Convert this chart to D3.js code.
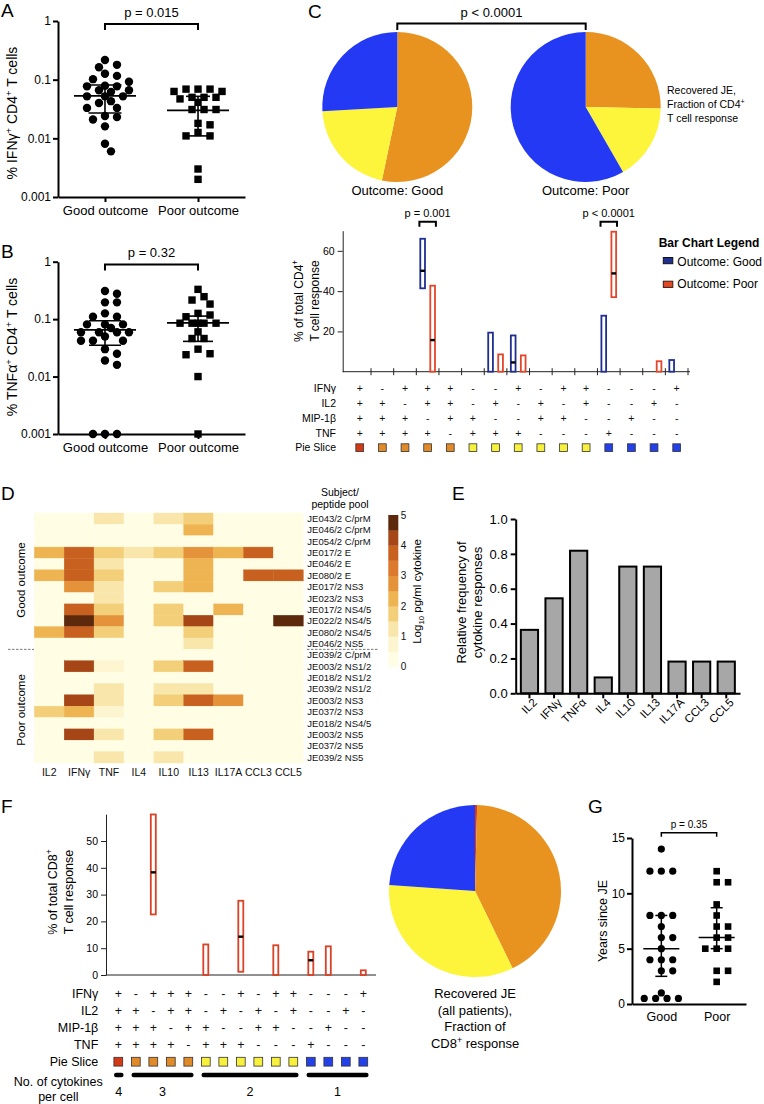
<!DOCTYPE html>
<html><head><meta charset="utf-8">
<script src="https://cdn.jsdelivr.net/npm/d3@7/dist/d3.min.js"></script>
<style>
html,body{margin:0;padding:0;background:#fff;}
svg{display:block;}
</style></head>
<body><svg id="chart" width="764" height="1104"></svg>
<script>
// ================= DATA =================
// Panels A & B
const outcomeGroups = ["Good outcome", "Poor outcome"];
const logTickValues = [1, 0.1, 0.01, 0.001];
const logTickLabels = ["1", "0.1", "0.01", "0.001"];
const ifngGood = [0.217,0.179,0.163,0.126,0.116,0.102,0.092,0.077,0.077,0.079,0.062,0.066,0.066,0.052,0.052,0.052,0.043,0.040,0.033,0.033,0.024,0.021,0.023,0.016,0.0081,0.006];
const ifngPoor = [0.063,0.069,0.069,0.063,0.069,0.047,0.041,0.05,0.05,0.05,0.031,0.031,0.031,0.017,0.018,0.011,0.011,0.0126,0.003,0.002];
const ifngMedian = [0.053, 0.030];
const ifngQ1 = [0.027, 0.011];
const ifngQ3 = [0.081, 0.052];
const ifngP = "p = 0.015";
const tnfGood = [0.309,0.277,0.196,0.196,0.126,0.11,0.11,0.081,0.081,0.081,0.07,0.059,0.059,0.059,0.059,0.05,0.042,0.042,0.042,0.030,0.025,0.019,0.016,0.001,0.001,0.001];
const tnfPoor = [0.33,0.246,0.215,0.183,0.126,0.118,0.11,0.085,0.085,0.085,0.085,0.085,0.06,0.046,0.046,0.030,0.025,0.024,0.01,0.001];
const tnfMedian = [0.065, 0.086];
const tnfQ1 = [0.035, 0.041];
const tnfQ3 = [0.094, 0.113];
const tnfP = "p = 0.32";

// Panel C pies (percent of response per pie slice group)
const sliceColors = ["#D9381B", "#E8921F", "#FCF53B", "#2339F4"];
const sliceSquareColors = ["#D23A16", "#E08A2A", "#F7F03C", "#2440E8"];
const pieGood = [0, 53.3, 20.8, 25.9];
const piePoor = [0, 25.3, 16.4, 58.3];
const pieAll = [0.4, 42.4, 33.3, 23.9];

// Cytokine combination rows (shared by C and F)
const comboRowLabels = ["IFNγ", "IL2", "MIP-1β", "TNF", "Pie Slice"];
const comboIFNg = ["+","-","+","+","+","-","-","+","-","+","+","-","-","-","+"];
const comboIL2  = ["+","+","-","+","+","-","+","-","+","-","+","-","-","+","-"];
const comboMIP  = ["+","+","+","-","+","+","-","-","+","+","-","-","+","-","-"];
const comboTNF  = ["+","+","+","+","-","+","+","+","-","-","-","+","-","-","-"];
const comboSlice = [0,1,1,1,1,2,2,2,2,2,2,3,3,3,3];

// Panel C bars (% of total CD4+ response)
const cd4GoodHigh = [0,0,0,66,0,0,19.4,18,0,0,0,27.8,0,0,5.8];
const cd4GoodLow  = [0,0,0,41.4,0,0,0,0,0,0,0,0,0,0,0];
const cd4GoodMed  = [null,null,null,50.1,null,null,null,4.6,null,null,null,null,null,null,null];
const cd4PoorHigh = [0,0,0,42.7,0,0,8.6,8.1,0,0,0,69.5,0,5.2,0];
const cd4PoorLow  = [0,0,0,0,0,0,0,0,0,0,0,37,0,0,0];
const cd4PoorMed  = [null,null,null,15.7,null,null,null,null,null,null,null,48.8,null,null,null];
const cd4YTicks = [20, 40, 60];
const cd4PValues = [{col:3, label:"p = 0.001"}, {col:11, label:"p < 0.0001"}];

// Panel D heatmap
const heatCytokines = ["IL2","IFNγ","TNF","IL4","IL10","IL13","IL17A","CCL3","CCL5"];
const heatSubjects = ["JE043/2 C/prM","JE046/2 C/prM","JE054/2 C/prM","JE017/2 E","JE046/2 E","JE080/2 E","JE017/2 NS3","JE023/2 NS3","JE017/2 NS4/5","JE022/2 NS4/5","JE080/2 NS4/5","JE046/2 NS5","JE039/2 C/prM","JE003/2 NS1/2","JE018/2 NS1/2","JE039/2 NS1/2","JE003/2 NS3","JE037/2 NS3","JE018/2 NS4/5","JE003/2 NS5","JE037/2 NS5","JE039/2 NS5"];
const heatValues = [
  [0,0,1.2,0,1.2,1.7,0,0,0],
  [0,0,0,0,0,2.2,0,0,0],
  [0,0,0,0,0,0,0,0,0],
  [2.2,3.7,1.7,1.2,1.7,2.9,2.2,3.7,0],
  [0,3.7,1.2,0,0,2.2,0,0,0],
  [2.2,3.7,1.7,0,0,2.2,0,3.7,3.7],
  [0,2.9,1.2,0,1.7,2.2,0,0,0],
  [0,0,1.2,0,0,0,0,0,0],
  [0,3.7,1.7,0,1.7,0,2.2,0,0],
  [0,4.8,2.9,0,1.7,4.2,0,0,4.8],
  [2.2,3.7,1.7,0,0,1.7,0,0,0],
  [0,0,0,0,0,1.2,0,0,0],
  [0,0,0,0,0,0,0,0,0],
  [0,4.2,0.7,0,1.7,3.7,0,0,0],
  [0,0,0,0,0,0,0,0,0],
  [0,0,1.2,0,1.2,1.2,0,0,0],
  [0,4.2,1.2,0,1.7,3.7,2.7,0,0],
  [1.7,2.2,0.7,0,0,0,0,0,0],
  [0,0,0,0,0,0,0,0,0],
  [0,4.2,1.2,0,1.7,3.7,0,0,0],
  [0,0,0,0,0,0,0,0,0],
  [0,0,1.2,0,1.2,0,0,0,0]
];
const goodSubjectCount = 12;
const heatColors = ["#FFFDE4","#FDF5CF","#F8E6AB","#F3CF7A","#EFB452","#E4933A","#DB7A2C","#C8611F","#A64516","#5C290D"];
const colorbarTicks = [0,1,2,3,4,5];

// Panel E
const freqCytokines = ["IL2","IFNγ","TNFα","IL4","IL10","IL13","IL17A","CCL3","CCL5"];
const freqValues = [0.364,0.545,0.818,0.091,0.727,0.727,0.182,0.182,0.182];
const freqTicks = [0,0.2,0.4,0.6,0.8,1.0];

// Panel F
const cd8High = [0,0,59.9,0,0,11.4,0,27.7,0,11.1,0,8.7,10.7,0,1.75];
const cd8Low  = [0,0,22.6,0,0,0,0,1.2,0,0,0,0,0,0,0];
const cd8Med  = [null,null,38.3,null,null,null,null,14.3,null,null,null,5.5,null,null,null];
const cd8YTicks = [0,10,20,30,40,50];
const cytokineCountGroups = [{label:"4",from:0,to:0},{label:"3",from:1,to:4},{label:"2",from:5,to:10},{label:"1",from:11,to:14}];

// Panel G
const gGroups = ["Good","Poor"];
const yearsGood = [14,12,12,12,8,8,8,7,6,6,5,4,4,4,3,3,1,0.5,0.5,0.5,0.5];
const yearsPoor = [12,11,11,9,8,7,7,6,6,5,5,5,3,3,2];
const yearsMedian = [5, 6];
const yearsQ1 = [2.5, 5];
const yearsQ3 = [8, 8.7];
const yearsTicks = [0,5,10,15];
const yearsP = "p = 0.35";

// ================= DRAWING =================
const FONT = '"Liberation Sans", Arial, Helvetica, sans-serif';
const svg = d3.select("#chart").attr("font-family", FONT);
svg.append("rect").attr("width",764).attr("height",1104).attr("fill","#fff");

function txt(x,y,s,size,anchor="start",extra={}) {
  const t = svg.append("text").attr("x",x).attr("y",y).attr("font-size",size)
    .attr("text-anchor",anchor).attr("fill",extra.fill||"#000").text(s);
  if (extra.weight) t.attr("font-weight",extra.weight);
  return t;
}
function rich(x,y,parts,size,anchor="middle",rotate=0){
  const t = svg.append("text").attr("font-size",size).attr("text-anchor",anchor).attr("fill","#000")
    .attr("transform",`translate(${x},${y})`+(rotate?` rotate(${rotate})`:""));
  let cur=0;
  parts.forEach(p=>{
    const target = p.sup ? -size*0.38 : (p.sub ? size*0.28 : 0);
    const ts = t.append("tspan").attr("dy", target-cur).text(p.t);
    if (p.sup||p.sub) ts.attr("font-size", size*0.68);
    cur=target;
  });
  return t;
}
function rotText(x,y,s,size){
  return svg.append("text").attr("font-size",size).attr("text-anchor","middle").attr("fill","#000")
    .attr("transform",`translate(${x},${y}) rotate(-90)`).text(s);
}
function styleAxis(g,size,sw,color="#000"){
  g.attr("font-family",FONT).attr("font-size",size);
  g.selectAll("path,line").attr("stroke",color).attr("stroke-width",sw);
  g.selectAll("text").attr("fill","#000");
}
function swarm(vals,yScale,cx,step,minDist,maxOff){
  const pts = vals.map(v=>({v, y:yScale(v)})).sort((a,b)=>a.y-b.y);
  const placed=[];
  for (const p of pts){
    p.x = cx;
    let best=null, bestScore=Infinity;
    for (let k=0;k<60;k++){
      const off = (k%2===1?1:-1)*Math.ceil(k/2)*step;
      if (Math.abs(off)>maxOff) break;
      const x = cx+off;
      const dmin = placed.length? d3.min(placed,q=>Math.hypot(q.x-x,q.y-p.y)) : Infinity;
      if (dmin>=minDist) { best=x; break; }
      const score = -dmin;
      if (score<bestScore){bestScore=score; p.alt=x;}
    }
    p.x = best!=null ? best : p.alt;
    placed.push(p);
  }
  return placed;
}

// Panel letters
[["A",1,17],["B",1,258],["C",308,18],["D",1,500],["E",452,500],["F",1,813],["G",588,813]]
  .forEach(([l,x,y])=>txt(x,y,l,19));

// ---------- Panels A & B ----------
function dotPanel(o){
  const y = d3.scaleLog().domain([0.001,1]).range([o.yBottom,o.yTop]);
  const x = d3.scalePoint().domain(outcomeGroups).range([58,245]).padding(0.505);
  const ga = svg.append("g").attr("transform","translate(58,0)")
    .call(d3.axisLeft(y).tickValues(logTickValues).tickFormat((d,i)=>logTickLabels[i]).tickSize(5).tickSizeOuter(0).tickPadding(2));
  styleAxis(ga,12,2);
  const gx = svg.append("g").attr("transform",`translate(0,${o.yBottom})`)
    .call(d3.axisBottom(x).tickSize(5).tickSizeOuter(0).tickPadding(4));
  styleAxis(gx,13,2);
  const gp = swarm(o.good,y,x(outcomeGroups[0]),6,8.6,26);
  svg.append("g").selectAll("circle").data(gp).join("circle")
    .attr("cx",d=>d.x).attr("cy",d=>d.y).attr("r",4.2).attr("fill","#000");
  const pp = swarm(o.poor,y,x(outcomeGroups[1]),6,8.6,26);
  svg.append("g").selectAll("rect").data(pp).join("rect")
    .attr("x",d=>d.x-3.7).attr("y",d=>d.y-3.7).attr("width",7.4).attr("height",7.4).attr("fill","#000");
  outcomeGroups.forEach((gname,i)=>{
    const cx=x(gname);
    const sg=svg.append("g").attr("stroke","#000").attr("stroke-width",1.6);
    sg.append("line").attr("x1",cx-31).attr("x2",cx+31).attr("y1",y(o.med[i])).attr("y2",y(o.med[i]));
    sg.append("line").attr("x1",cx).attr("x2",cx).attr("y1",y(o.q1[i])).attr("y2",y(o.q3[i]));
    [o.q1[i],o.q3[i]].forEach(v=>sg.append("line").attr("x1",cx-o.cap[i]).attr("x2",cx+o.cap[i]).attr("y1",y(v)).attr("y2",y(v)));
  });
  const x1=x(outcomeGroups[0]), x2=x(outcomeGroups[1]);
  svg.append("path").attr("d",`M${x1},${o.brY+6}V${o.brY}H${x2}V${o.brY+6}`)
    .attr("fill","none").attr("stroke","#000").attr("stroke-width",2);
  txt((x1+x2)/2,o.pY,o.p,13,"middle");
  rich(17,o.labelY,o.label,14,"middle",-90);
}
dotPanel({yBottom:197,yTop:21,good:ifngGood,poor:ifngPoor,med:ifngMedian,q1:ifngQ1,q3:ifngQ3,cap:[16.5,12],
  brY:24,pY:16.5,p:ifngP,labelY:113,
  label:[{t:"% IFNγ"},{t:"+",sup:true},{t:" CD4"},{t:"+",sup:true},{t:" T cells"}]});
dotPanel({yBottom:434,yTop:261.7,good:tnfGood,poor:tnfPoor,med:tnfMedian,q1:tnfQ1,q3:tnfQ3,cap:[16,15],
  brY:264.5,pY:257,p:tnfP,labelY:347,
  label:[{t:"% TNFα"},{t:"+",sup:true},{t:" CD4"},{t:"+",sup:true},{t:" T cells"}]});

// ---------- Panel C pies ----------
const pieGen = d3.pie().sort(null).value(d=>d);
const arcC = d3.arc().innerRadius(0).outerRadius(75);
const pieCx = d3.scalePoint().domain(["Good","Poor"]).range([397.3,585.7]);
[["Good",pieGood],["Poor",piePoor]].forEach(([k,vals])=>{
  svg.append("g").attr("transform",`translate(${pieCx(k)},107)`)
    .selectAll("path").data(pieGen(vals)).join("path").attr("d",arcC).attr("fill",(d,i)=>sliceColors[i]);
  txt(pieCx(k),195,"Outcome: "+k,13,"middle");
});
svg.append("path").attr("d",`M${pieCx("Good")},30V23.5H${pieCx("Poor")}V30`)
  .attr("fill","none").attr("stroke","#000").attr("stroke-width",2);
txt((pieCx("Good")+pieCx("Poor"))/2,16.5,"p < 0.0001",13,"middle");
txt(667,94,"Recovered JE,",10.5);
rich(667,108,[{t:"Fraction of CD4"},{t:"+",sup:true}],10.5,"start");
txt(667,121.5,"T cell response",10.5);

// ---------- Panel C bars ----------
const xC = d3.scaleBand().domain(d3.range(15)).range([348.4,688]);
const yC = d3.scaleLinear().domain([0,70]).range([371.7,230.7]);
const subC = d3.scaleBand().domain(["good","poor"]).range([-7.35,7.35]).paddingInner(0.53);
const cxC = i => xC(i)+xC.bandwidth()/2;
const gyC = svg.append("g").attr("transform","translate(342.7,0)")
  .call(d3.axisLeft(yC).tickValues(cd4YTicks).tickSize(5).tickSizeOuter(0).tickPadding(3));
styleAxis(gyC,10.5,1,"#222");
svg.append("line").attr("x1",342.7).attr("x2",690).attr("y1",yC(0)).attr("y2",yC(0)).attr("stroke","#222").attr("stroke-width",1);
svg.append("g").selectAll("line").data(d3.range(15)).join("line")
  .attr("x1",i=>xC(i)+xC.bandwidth()).attr("x2",i=>xC(i)+xC.bandwidth())
  .attr("y1",yC(0)-3.5).attr("y2",yC(0)+3.5).attr("stroke","#222");
function barSetC(high,low,med,key,color){
  const idx = d3.range(15).filter(i=>high[i]>0);
  svg.append("g").selectAll("rect").data(idx).join("rect")
    .attr("x",i=>cxC(i)+subC(key)).attr("width",subC.bandwidth())
    .attr("y",i=>yC(high[i])).attr("height",i=>yC(low[i])-yC(high[i]))
    .attr("fill","none").attr("stroke",color).attr("stroke-width",1.8);
  const midx = d3.range(15).filter(i=>med[i]!=null);
  svg.append("g").selectAll("line").data(midx).join("line")
    .attr("x1",i=>cxC(i)+subC(key)).attr("x2",i=>cxC(i)+subC(key)+subC.bandwidth())
    .attr("y1",i=>yC(med[i])).attr("y2",i=>yC(med[i])).attr("stroke","#000").attr("stroke-width",2.4);
}
barSetC(cd4GoodHigh,cd4GoodLow,cd4GoodMed,"good","#1F2F8F");
barSetC(cd4PoorHigh,cd4PoorLow,cd4PoorMed,"poor","#E2462A");
cd4PValues.forEach(p=>{
  const a = cxC(p.col)+subC("good")-0.9, b = cxC(p.col)+subC("poor")+subC.bandwidth()+0.9;
  svg.append("path").attr("d",`M${a},226.7V221.7H${b}V226.7`).attr("fill","none").attr("stroke","#000").attr("stroke-width",2);
  txt((a+b)/2,217.3,p.label,11,"middle");
});
rich(303,301,[{t:"% of total CD4"},{t:"+",sup:true}],12,"middle",-90);
rotText(318.5,301,"T cell response",12);
// legend
txt(658.7,246.7,"Bar Chart Legend",12,"start",{weight:"bold"});
svg.append("rect").attr("x",663.3).attr("y",257.5).attr("width",9.5).attr("height",6.2).attr("fill","#1F2F8F").attr("stroke","#111").attr("stroke-width",1);
txt(677.3,265.7,"Outcome: Good",12);
svg.append("rect").attr("x",663.3).attr("y",281.2).attr("width",9.5).attr("height",6.2).attr("fill","#E24A25").attr("stroke","#3a1a10").attr("stroke-width",1);
txt(677.3,288.3,"Outcome: Poor",12);
// combo rows
function comboRows(xcenter, rowScale, labelX, fs, sq){
  const rows=[comboIFNg,comboIL2,comboMIP,comboTNF];
  comboRowLabels.forEach(lab=>{
    txt(labelX,rowScale(lab),lab,fs,"end").attr("dy","0.35em");
  });
  rows.forEach((row,r)=>{
    svg.append("g").selectAll("text").data(row).join("text")
      .attr("x",(d,i)=>xcenter(i)).attr("y",rowScale(comboRowLabels[r])).attr("dy","0.35em")
      .attr("text-anchor","middle").attr("font-size",fs).attr("fill","#111").text(d=>d);
  });
  svg.append("g").selectAll("rect").data(comboSlice).join("rect")
    .attr("x",(d,i)=>xcenter(i)-sq/2).attr("y",rowScale("Pie Slice")-sq/2)
    .attr("width",sq).attr("height",sq).attr("fill",d=>sliceSquareColors[d])
    .attr("stroke","#333").attr("stroke-width",0.8);
}
comboRows(cxC, d3.scalePoint().domain(comboRowLabels).range([388.3,447.7]), 336, 10.5, 7.8);

// ---------- Panel D heatmap ----------
const xD = d3.scaleBand().domain(heatCytokines).range([34.3,303.3]);
const yD = d3.scaleBand().domain(d3.range(heatSubjects.length)).range([513,763]);
const colD = d3.scaleQuantize().domain([0,5]).range(heatColors);
const cells = [];
heatValues.forEach((row,r)=>row.forEach((v,c)=>cells.push({r,c,v})));
svg.append("g").selectAll("rect").data(cells).join("rect")
  .attr("x",d=>xD(heatCytokines[d.c])).attr("y",d=>yD(d.r))
  .attr("width",xD.bandwidth()).attr("height",yD.bandwidth())
  .attr("fill",d=>colD(d.v)).attr("stroke",d=>colD(d.v)).attr("stroke-width",0.4);
svg.append("g").selectAll("text").data(heatSubjects).join("text")
  .attr("x",307.3).attr("y",(d,i)=>yD(i)+yD.bandwidth()/2).attr("dy","0.35em")
  .attr("font-size",9.5).attr("fill","#111").text(d=>d);
svg.append("g").selectAll("text").data(heatCytokines).join("text")
  .attr("x",d=>xD(d)+xD.bandwidth()/2).attr("y",775.5).attr("text-anchor","middle")
  .attr("font-size",10.5).attr("fill","#111").text(d=>d);
const sepY = yD(goodSubjectCount);
svg.append("line").attr("x1",8).attr("x2",34).attr("y1",sepY).attr("y2",sepY).attr("stroke","#777").attr("stroke-dasharray","2.5,1.5");
svg.append("line").attr("x1",307).attr("x2",378).attr("y1",sepY).attr("y2",sepY).attr("stroke","#777").attr("stroke-dasharray","2.5,1.5");
rotText(25,580,"Good outcome",11.5);
rotText(25,710,"Poor outcome",11.5);
txt(340,495.5,"Subject/",10.5,"middle");
txt(340,507.5,"peptide pool",10.5,"middle");
// colorbar
const cbY = d3.scaleLinear().domain([0,5]).range([666.7,515]);
svg.append("g").selectAll("rect").data(heatColors).join("rect")
  .attr("x",388.3).attr("width",10)
  .attr("y",(d,i)=>cbY((i+1)*0.5)).attr("height",(d,i)=>cbY(i*0.5)-cbY((i+1)*0.5)+0.3)
  .attr("fill",d=>d);
svg.append("g").selectAll("text").data(colorbarTicks).join("text")
  .attr("x",400.7).attr("y",d=>cbY(d)).attr("dy","0.35em").attr("font-size",10).attr("fill","#111").text(d=>d);
rich(420.5,591.5,[{t:"Log"},{t:"10",sub:true},{t:" pg/ml cytokine"}],11.5,"middle",-90);

// ---------- Panel E ----------
const xE = d3.scaleBand().domain(freqCytokines).range([515.7,740]).paddingInner(0.3).paddingOuter(0.209);
const yE = d3.scaleLinear().domain([0,1]).range([693.3,519]);
svg.append("g").selectAll("rect").data(freqCytokines).join("rect")
  .attr("x",d=>xE(d)).attr("width",xE.bandwidth())
  .attr("y",(d,i)=>yE(freqValues[i])).attr("height",(d,i)=>yE(0)-yE(freqValues[i]))
  .attr("fill","#A7A7A7").attr("stroke","#000").attr("stroke-width",2);
const gyE = svg.append("g").attr("transform","translate(515.7,0)")
  .call(d3.axisLeft(yE).tickValues(freqTicks).tickFormat(d3.format(".1f")).tickSize(5).tickSizeOuter(0).tickPadding(3));
styleAxis(gyE,13,2);
const gxE = svg.append("g").attr("transform","translate(0,693.3)")
  .call(d3.axisBottom(xE).tickSize(5).tickSizeOuter(0).tickPadding(2));
styleAxis(gxE,11.5,2);
gxE.selectAll("text").attr("text-anchor","end").attr("dx","-0.1em").attr("dy","0.5em").attr("transform","rotate(-45)");
rotText(465.5,602.5,"Relative frequency of",13);
rotText(482,602.5,"cytokine responses",13);

// ---------- Panel F ----------
const xF = d3.scaleBand().domain(d3.range(15)).range([109.55,372.05]);
const yF = d3.scaleLinear().domain([0,60]).range([975,814.2]);
const cxF = i => xF(i)+xF.bandwidth()/2;
const gyF = svg.append("g").attr("transform","translate(106,0)")
  .call(d3.axisLeft(yF).tickValues(cd8YTicks).tickSize(5).tickSizeOuter(0).tickPadding(3));
styleAxis(gyF,10.5,1,"#222");
svg.append("line").attr("x1",106).attr("x2",376).attr("y1",yF(0)).attr("y2",yF(0)).attr("stroke","#222");
const idxF = d3.range(15).filter(i=>cd8High[i]>0);
svg.append("g").selectAll("rect").data(idxF).join("rect")
  .attr("x",i=>cxF(i)-2.5).attr("width",5)
  .attr("y",i=>yF(cd8High[i])).attr("height",i=>yF(cd8Low[i])-yF(cd8High[i]))
  .attr("fill","none").attr("stroke","#DA4227").attr("stroke-width",1.8);
svg.append("g").selectAll("line").data(d3.range(15).filter(i=>cd8Med[i]!=null)).join("line")
  .attr("x1",i=>cxF(i)-2.5).attr("x2",i=>cxF(i)+2.5)
  .attr("y1",i=>yF(cd8Med[i])).attr("y2",i=>yF(cd8Med[i])).attr("stroke","#000").attr("stroke-width",2.4);
rich(57,892,[{t:"% of total CD8"},{t:"+",sup:true}],12.5,"middle",-90);
rotText(73,892,"T cell response",12.5);
comboRows(cxF, d3.scalePoint().domain(comboRowLabels).range([993.3,1061.7]), 98.3, 12.5, 8.8);
svg.append("g").selectAll("line").data(cytokineCountGroups).join("line")
  .attr("x1",d=>cxF(d.from)-2).attr("x2",d=>cxF(d.to)+3)
  .attr("y1",1075).attr("y2",1075).attr("stroke","#000").attr("stroke-width",4.6).attr("stroke-linecap","round");
svg.append("g").selectAll("text").data(cytokineCountGroups).join("text")
  .attr("x",d=>(cxF(d.from)+cxF(d.to))/2+0.5).attr("y",1095.5).attr("text-anchor","middle")
  .attr("font-size",12.5).attr("fill","#000").text(d=>d.label);
txt(58.3,1086,"No. of cytokines",12.5,"middle");
txt(58.3,1101,"per cell",12.5,"middle");
// F pie
const arcF = d3.arc().innerRadius(0).outerRadius(86);
svg.append("g").attr("transform","translate(475,891)")
  .selectAll("path").data(pieGen(pieAll)).join("path").attr("d",arcF).attr("fill",(d,i)=>sliceColors[i]);
txt(475,997.5,"Recovered JE",13,"middle");
txt(475,1014.5,"(all patients),",13,"middle");
txt(475,1031,"Fraction of",13,"middle");
rich(475,1048,[{t:"CD8"},{t:"+",sup:true},{t:" response"}],13,"middle");

// ---------- Panel G ----------
const xG = d3.scalePoint().domain(gGroups).range([632,746]).padding(0.53);
const yG = d3.scaleLinear().domain([0,15]).range([1004,838]);
const gyG = svg.append("g").attr("transform","translate(632,0)")
  .call(d3.axisLeft(yG).tickValues(yearsTicks).tickSize(5).tickSizeOuter(0).tickPadding(2));
styleAxis(gyG,12,2);
const gxG = svg.append("g").attr("transform","translate(0,1004)")
  .call(d3.axisBottom(xG).tickSize(0).tickSizeOuter(0).tickPadding(8));
styleAxis(gxG,12.5,2);
const gGood = swarm(yearsGood,yG,xG("Good"),5.7,7.5,20);
svg.append("g").selectAll("circle").data(gGood).join("circle")
  .attr("cx",d=>d.x).attr("cy",d=>d.y).attr("r",3.6).attr("fill","#000");
const gPoor = swarm(yearsPoor,yG,xG("Poor"),5.7,7.5,20);
svg.append("g").selectAll("rect").data(gPoor).join("rect")
  .attr("x",d=>d.x-3.3).attr("y",d=>d.y-3.3).attr("width",6.6).attr("height",6.6).attr("fill","#000");
gGroups.forEach((k,i)=>{
  const cx=xG(k);
  const sg=svg.append("g").attr("stroke","#000").attr("stroke-width",1.5);
  sg.append("line").attr("x1",cx-18).attr("x2",cx+18).attr("y1",yG(yearsMedian[i])).attr("y2",yG(yearsMedian[i]));
  sg.append("line").attr("x1",cx).attr("x2",cx).attr("y1",yG(yearsQ1[i])).attr("y2",yG(yearsQ3[i]));
  [yearsQ1[i],yearsQ3[i]].forEach(v=>sg.append("line").attr("x1",cx-6).attr("x2",cx+6).attr("y1",yG(v)).attr("y2",yG(v)));
});
svg.append("path").attr("d",`M${xG("Good")},836.7V832.7H${xG("Poor")}V836.7`).attr("fill","none").attr("stroke","#000").attr("stroke-width",1.5);
txt((xG("Good")+xG("Poor"))/2,828.3,yearsP,10,"middle");
rotText(607,921,"Years since JE",12.5);
</script></body></html>
